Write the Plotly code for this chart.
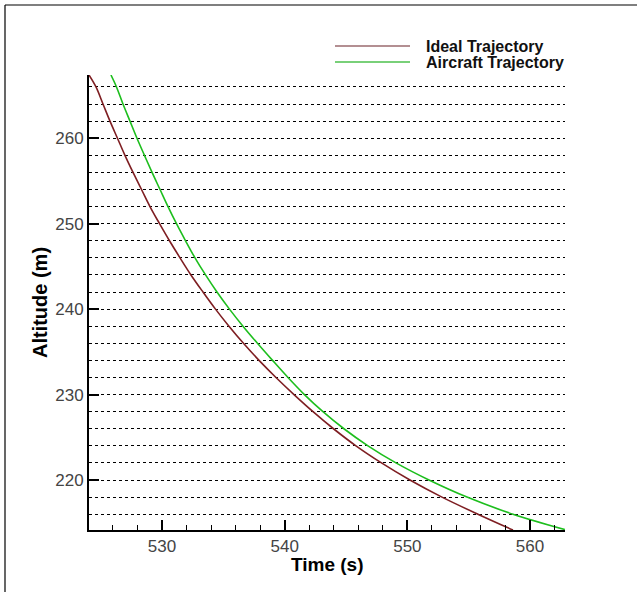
import plotly.graph_objects as go

# ---- data ----
ideal_alt = [267.4, 266, 264, 262, 260, 258, 256, 254, 252, 250, 248, 246, 244, 242,
             240, 238, 236, 234, 232, 230, 228, 226, 224, 222, 220, 218, 216, 214.15]
ideal_time = [524.05, 524.62, 525.19, 525.76, 526.37, 526.98, 527.64, 528.33, 529.02,
              529.80, 530.61, 531.47, 532.36, 533.34, 534.36, 535.46, 536.64, 537.91,
              539.29, 540.76, 542.31, 543.98, 545.81, 547.89, 550.21, 552.82, 555.75, 558.61]

aircraft_alt = [267.4, 266, 264, 262, 260, 258, 256, 254, 252, 250, 248, 246, 244, 242,
                240, 238, 236, 234, 232, 230, 228, 226, 224, 222, 220, 218, 216, 214.2]
aircraft_time = [525.84, 526.29, 526.82, 527.39, 527.96, 528.57, 529.19, 529.84, 530.49,
                 531.18, 531.92, 532.69, 533.55, 534.48, 535.50, 536.60, 537.78, 539.01,
                 540.27, 541.61, 543.12, 544.83, 546.79, 549.07, 551.76, 554.86, 558.61, 562.84]

series_names = ["Ideal Trajectory", "Aircraft Trajectory"]
x_ticks = [530, 540, 550, 560]
y_ticks = [220, 230, 240, 250, 260]
x_title = "Time (s)"
y_title = "Altitude (m)"

RED = "#7E1E22"
GREEN = "#1DBE1D"

fig = go.Figure()
fig.add_trace(go.Scatter(x=ideal_time, y=ideal_alt, mode="lines", name=series_names[0],
                         line=dict(color=RED, width=1.6, shape="spline"), showlegend=False))
fig.add_trace(go.Scatter(x=aircraft_time, y=aircraft_alt, mode="lines", name=series_names[1],
                         line=dict(color=GREEN, width=1.6, shape="spline"), showlegend=False))

W, H = 637, 592
L, R, T, B = 89, 72, 75, 62
pw, ph = W - L - R, H - T - B

def px(x):
    return (x - L) / pw

def py(y):
    return (H - B - y) / ph

font = "Liberation Sans, Arial, sans-serif"

fig.update_layout(
    width=W, height=H,
    margin=dict(l=L, r=R, t=T, b=B),
    paper_bgcolor="white", plot_bgcolor="white",
    font=dict(family=font, color="#333333"),
    xaxis=dict(
        range=[524.05, 562.85], tickvals=x_ticks, ticks="inside", ticklen=10, tickwidth=2,
        tickcolor="black", showline=True, linecolor="black", linewidth=2, showgrid=False,
        zeroline=False, tickfont=dict(size=17, color="#444444"),
        minor=dict(dtick=2, tick0=530, ticks="inside", ticklen=5, tickwidth=1, tickcolor="black",
                   showgrid=False),
    ),
    yaxis=dict(
        range=[214.15, 267.4], tickvals=y_ticks, ticks="inside", ticklen=10, tickwidth=2,
        tickcolor="black", showline=True, linecolor="black", linewidth=2, showgrid=True,
        gridcolor="black", griddash="dot", gridwidth=1, zeroline=False,
        tickfont=dict(size=17, color="#444444"),
        minor=dict(dtick=2, tick0=220, ticks="", showgrid=True, gridcolor="black",
                   griddash="dot", gridwidth=1),
        title=dict(text="<b>%s</b>" % y_title, font=dict(size=20, color="black"), standoff=2),
    ),
)

# x axis title, just below the tick labels
fig.add_annotation(xref="paper", yref="paper", x=px(327), y=py(564), text="<b>%s</b>" % x_title,
                   showarrow=False, xanchor="center", yanchor="middle",
                   font=dict(size=19, color="black", family=font))

# manual legend with long line samples
legend_rows = [(46, series_names[0], "#9A6A6E"), (62, series_names[1], "#4CC04C")]
for ypos, name, col in legend_rows:
    fig.add_shape(type="line", xref="paper", yref="paper",
                  x0=px(335), x1=px(410), y0=py(ypos), y1=py(ypos),
                  line=dict(color=col, width=1.5))
    fig.add_annotation(xref="paper", yref="paper", x=px(424), y=py(ypos),
                       text="<b>%s</b>" % name, showarrow=False, xanchor="left",
                       yanchor="middle", font=dict(size=16, color="#111111", family=font))

# outer frame (top and left edges visible)
fig.add_shape(type="line", xref="paper", yref="paper", x0=px(5), x1=px(W), y0=py(5), y1=py(5),
              line=dict(color="black", width=1.2))
fig.add_shape(type="line", xref="paper", yref="paper", x0=px(5), x1=px(5), y0=py(5), y1=py(H),
              line=dict(color="black", width=1.2))

fig.write_html("out.html")
